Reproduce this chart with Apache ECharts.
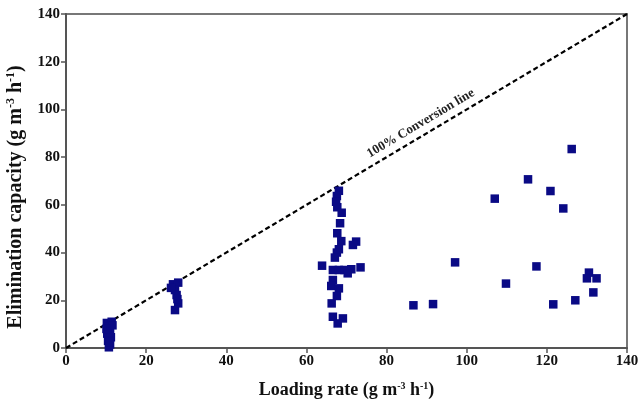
<!DOCTYPE html>
<html><head><meta charset="utf-8">
<script src="https://cdn.jsdelivr.net/npm/echarts@6/dist/echarts.min.js"></script>
<style>html,body{margin:0;padding:0;background:#fff}#c{width:642px;height:403px}</style>
</head><body><div id="c"></div>
<script>
// Loading rate (x) and elimination capacity (y)
const loadX = [
  10.2,11.4,10.8,11.0,10.3,11.2,10.5,11.0,10.7,11.6,10.1,10.9,
  26.7,28.0,27.2,27.6,28.0,27.2,26.2,27.8,
  68.1,67.6,67.4,67.7,68.8,68.4,67.7,68.7,72.4,71.6,68.1,67.6,67.1,63.9,73.5,66.6,68.1,69.5,71.2,70.3,66.6,66.2,68.1,67.6,66.3,66.6,69.1,67.8,
  126.2,115.3,120.9,107.0,124.1,97.1,117.4,130.5,130.0,132.4,109.8,131.6,127.1,121.6,91.6,86.7
];
const elimY = [
  10.5,11.0,9.0,7.5,6.0,4.5,3.0,1.5,0.3,9.5,8.0,2.5,
  26.7,27.4,24.3,22.2,18.7,15.9,25.2,20.5,
  65.9,63.7,61.3,59.0,56.7,52.3,48.1,44.8,44.6,43.2,41.4,40.0,37.9,34.5,33.8,32.7,32.7,32.7,33.0,31.3,28.5,26.0,25.0,21.8,18.7,13.1,12.4,10.3,
  83.4,70.7,65.8,62.6,58.5,35.9,34.2,31.6,29.2,29.2,27.0,23.3,20.0,18.3,18.4,17.9
];
const lineX = [0, 140];
const lineY = [0, 140];
const labelSegX = [62, 118];
const labelSegY = [62, 118];

const pts = loadX.map((x,i)=>[x, elimY[i]]);
const font = 'Liberation Serif';
const supX = {
  sup: {fontFamily: font, fontWeight: 'bold', fontSize: 10, verticalAlign: 'top', padding:[0,0,8,0], color:'#111'}
};
const supY = {
  sup: {fontFamily: font, fontWeight: 'bold', fontSize: 12, verticalAlign: 'top', padding:[0,0,9,0], color:'#111'}
};
const chart = echarts.init(document.getElementById('c'), null, {renderer:'canvas'});
chart.setOption({
  animation: false,
  backgroundColor: '#fff',
  grid: {left: 66, right: 15, top: 14, bottom: 55, show: true, borderColor: '#777', borderWidth: 2,
         containLabel: false, outerBoundsMode: 'none'},
  xAxis: {
    type: 'value', min: 0, max: 140, interval: 20,
    name: 'Loading rate (g m{sup|-3} h{sup|-1})',
    nameLocation: 'middle', nameGap: 33,
    nameTextStyle: {fontFamily: font, fontWeight: 'bold', fontSize: 18, color: '#111', rich: supX},
    axisLine: {lineStyle: {color: '#555', width: 2}},
    axisTick: {show: true, inside: false, length: 5, lineStyle: {color: '#555', width: 1.5}},
    axisLabel: {fontFamily: font, fontWeight: 'bold', fontSize: 15, color: '#111', margin: 6},
    splitLine: {show: false}
  },
  yAxis: {
    type: 'value', min: 0, max: 140, interval: 20,
    name: 'Elimination capacity (g m{sup|-3} h{sup|-1})',
    nameLocation: 'middle', nameGap: 40,
    nameTextStyle: {fontFamily: font, fontWeight: 'bold', fontSize: 20, color: '#111', rich: supY,
      padding: [0, 32, 0, 0]},
    axisLine: {lineStyle: {color: '#555', width: 2}},
    axisTick: {show: true, inside: false, length: 5, lineStyle: {color: '#555', width: 1.5}},
    axisLabel: {fontFamily: font, fontWeight: 'bold', fontSize: 15, color: '#111', margin: 6},
    splitLine: {show: false}
  },
  series: [
    {
      type: 'line', data: lineX.map((x,i)=>[x, lineY[i]]), symbol: 'none',
      lineStyle: {color: '#000', width: 2.2, type: [5, 3]}, z: 2,
      markLine: {
        silent: true, symbol: 'none',
        lineStyle: {color: 'rgba(0,0,0,0)', width: 0},
        label: {show: true, position: 'insideMiddleTop', formatter: '100% Conversion line',
          fontFamily: font, fontWeight: 'bold', fontSize: 13, color: '#222', distance: 5},
        data: [[{coord: [labelSegX[0], labelSegY[0]]}, {coord: [labelSegX[1], labelSegY[1]]}]]
      }
    },
    {
      type: 'scatter', data: pts, symbol: 'rect', symbolSize: 8.5,
      itemStyle: {color: '#0a0a85', opacity: 1}, z: 3
    }
  ]
});
</script></body></html>
